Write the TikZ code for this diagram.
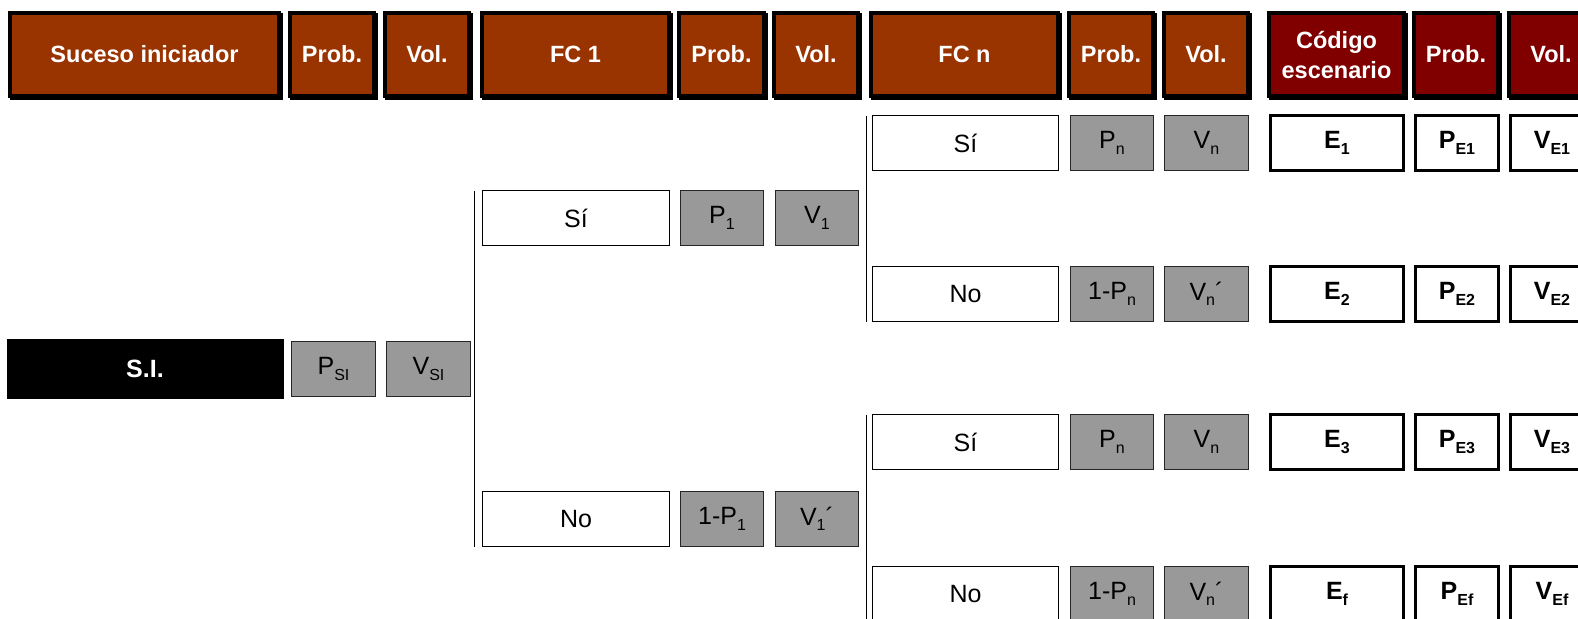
\documentclass[tikz,border=0pt]{standalone}
\usepackage{fontspec}
\setmainfont{Liberation Sans}
\definecolor{hdrc}{HTML}{993300}
\definecolor{hdrd}{HTML}{800000}
\definecolor{grayc}{HTML}{999999}
\newcommand\sbs[1]{\raisebox{-5.5pt}{\fontsize{16}{16}\selectfont #1}}
\tikzset{
  hdr/.style={draw=black, line width=4pt, fill=hdrc, text=white,
    font=\fontsize{23.5}{30}\selectfont\bfseries, inner sep=0pt, outer sep=0pt,
    minimum height=83pt, align=center,
    preaction={draw=black, fill=black, transform canvas={xshift=2pt, yshift=-2pt}}},
  hdrdark/.style={hdr, fill=hdrd},
  wbox/.style={draw=black, line width=1pt, fill=white, text=black,
    font=\fontsize{25}{30}\selectfont, inner sep=0pt, outer sep=0pt, minimum height=55pt},
  gbox/.style={wbox, draw=black!85, fill=grayc},
  ebox/.style={wbox, line width=3pt, font=\fontsize{25}{30}\selectfont\bfseries},
  sibox/.style={wbox, fill=black, text=white, font=\fontsize{25}{30}\selectfont\bfseries, minimum height=59pt},
  conn/.style={draw=black, line width=1.2pt}
}
\begin{document}
\begin{tikzpicture}[x=1pt, y=-1pt]
\useasboundingbox (0,0) rectangle (1578,618);
% headers
\node[hdr, minimum width=269pt] (h1) at (144.5,54.5) {Suceso iniciador};
\node[hdr, minimum width=84pt] (h2) at (332,54.5) {Prob.};
\node[hdr, minimum width=84pt] (h3) at (427,54.5) {Vol.};
\node[hdr, minimum width=187pt] (h4) at (575.5,54.5) {FC 1};
\node[hdr, minimum width=85pt] (h5) at (721.5,54.5) {Prob.};
\node[hdr, minimum width=84pt] (h6) at (816,54.5) {Vol.};
\node[hdr, minimum width=187pt] (h7) at (964.5,54.5) {FC n};
\node[hdr, minimum width=84pt] (h8) at (1111,54.5) {Prob.};
\node[hdr, minimum width=84pt] (h9) at (1206,54.5) {Vol.};
\node[hdrdark, minimum width=135pt] (h10) at (1336.5,54.5) {Código\\escenario};
\node[hdrdark, minimum width=84pt] (h11) at (1456,54.5) {Prob.};
\node[hdrdark, minimum width=84pt] (h12) at (1551,54.5) {Vol.};
% S.I. row
\node[sibox, minimum width=276pt] (si) at (145,368.5) {S.I.};
\node[gbox, minimum width=84pt] (psi) at (333.5,369) {P\sbs{SI}};
\node[gbox, minimum width=84pt] (vsi) at (428.5,369) {V\sbs{SI}};
% FC 1
\node[wbox, minimum width=187pt] (f1s) at (576,218) {Sí};
\node[gbox, minimum width=83pt] (p1s) at (722,218) {P\sbs{1}};
\node[gbox, minimum width=83pt] (v1s) at (817,218) {V\sbs{1}};
\node[wbox, minimum width=187pt] (f1n) at (576,519) {No};
\node[gbox, minimum width=83pt] (p1n) at (722,519) {1-P\sbs{1}};
\node[gbox, minimum width=83pt] (v1n) at (817,519) {V\sbs{1}´};
% FC n, upper
\node[wbox, minimum width=186pt] (fas) at (965.5,143) {Sí};
\node[gbox, minimum width=83pt] (pas) at (1112,143) {P\sbs{n}};
\node[gbox, minimum width=84pt] (vas) at (1206.5,143) {V\sbs{n}};
\node[wbox, minimum width=186pt] (fan) at (965.5,294) {No};
\node[gbox, minimum width=83pt] (pan) at (1112,294) {1-P\sbs{n}};
\node[gbox, minimum width=84pt] (van) at (1206.5,294) {V\sbs{n}´};
% FC n, lower
\node[wbox, minimum width=186pt] (fbs) at (965.5,442) {Sí};
\node[gbox, minimum width=83pt] (pbs) at (1112,442) {P\sbs{n}};
\node[gbox, minimum width=84pt] (vbs) at (1206.5,442) {V\sbs{n}};
\node[wbox, minimum width=186pt] (fbn) at (965.5,594) {No};
\node[gbox, minimum width=83pt] (pbn) at (1112,594) {1-P\sbs{n}};
\node[gbox, minimum width=84pt] (vbn) at (1206.5,594) {V\sbs{n}´};
% scenarios
\node[ebox, minimum width=133pt] (e1) at (1337,143) {E\sbs{1}};
\node[ebox, minimum width=83pt] (pe1) at (1457,143) {P\sbs{E1}};
\node[ebox, minimum width=83pt] (ve1) at (1552,143) {V\sbs{E1}};
\node[ebox, minimum width=133pt] (e2) at (1337,294) {E\sbs{2}};
\node[ebox, minimum width=83pt] (pe2) at (1457,294) {P\sbs{E2}};
\node[ebox, minimum width=83pt] (ve2) at (1552,294) {V\sbs{E2}};
\node[ebox, minimum width=133pt] (e3) at (1337,442) {E\sbs{3}};
\node[ebox, minimum width=83pt] (pe3) at (1457,442) {P\sbs{E3}};
\node[ebox, minimum width=83pt] (ve3) at (1552,442) {V\sbs{E3}};
\node[ebox, minimum width=133pt] (ef) at (1337,594) {E\sbs{f}};
\node[ebox, minimum width=83pt] (pef) at (1457,594) {P\sbs{Ef}};
\node[ebox, minimum width=83pt] (vef) at (1552,594) {V\sbs{Ef}};
% branch lines
\draw[conn] ([xshift=-8pt]f1s.north west) -- ([xshift=-8pt]f1n.south west);
\draw[conn] ([xshift=-6pt]fas.north west) -- ([xshift=-6pt]fan.south west);
\draw[conn] ([xshift=-6pt]fbs.north west) -- ([xshift=-6pt]fbn.south west);
\end{tikzpicture}
\end{document}
